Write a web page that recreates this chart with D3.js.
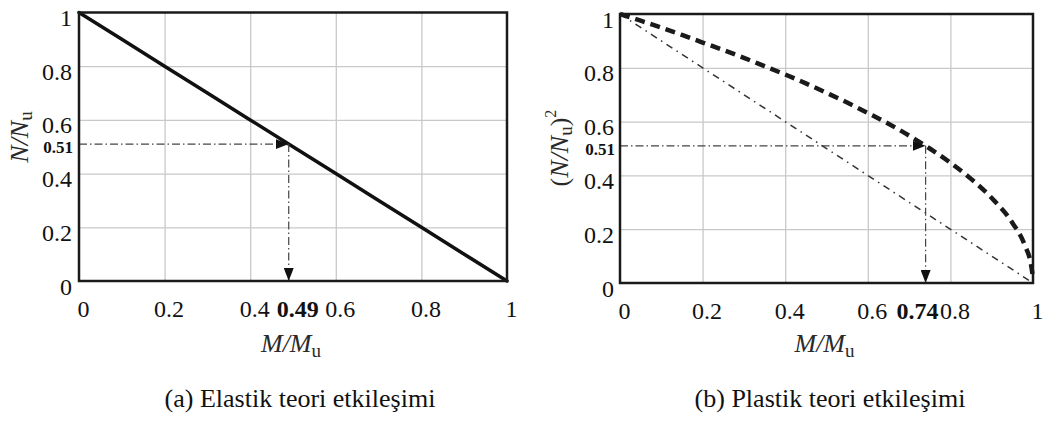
<!DOCTYPE html>
<html><head><meta charset="utf-8">
<script src="https://cdn.jsdelivr.net/npm/d3@7"></script>
<style>
body{margin:0;background:#fff;}
svg{display:block;font-family:"Liberation Serif","Times New Roman",serif;}
</style></head>
<body>
<svg id="c" width="1050" height="421"></svg>
<script>
// ---- data ----
const tickValues = [0, 0.2, 0.4, 0.6, 0.8, 1];
const tickLabels = ["0", "0.2", "0.4", "0.6", "0.8", "1"];
const gridValues = [0.2, 0.4, 0.6, 0.8];

const elasticM = [0, 0.1, 0.2, 0.3, 0.4, 0.5, 0.6, 0.7, 0.8, 0.9, 1];
const elasticN = [1, 0.9, 0.8, 0.7, 0.6, 0.5, 0.4, 0.3, 0.2, 0.1, 0];

const plasticM = [0, 0.05, 0.1, 0.15, 0.2, 0.25, 0.3, 0.35, 0.4, 0.45, 0.5, 0.55, 0.6, 0.65, 0.7, 0.75, 0.8, 0.85, 0.9, 0.95, 0.98, 0.995, 1];
const plasticN = [1, 0.975, 0.949, 0.922, 0.894, 0.866, 0.837, 0.806, 0.775, 0.742, 0.707, 0.671, 0.632, 0.592, 0.548, 0.5, 0.447, 0.387, 0.316, 0.224, 0.141, 0.07, 0.02];

const linearM = [0, 1];
const linearN = [1, 0];

const elasticMark = {m: 0.49, n: 0.51, mLabel: "0.49", nLabel: "0.51"};
const plasticMark = {m: 0.74, n: 0.51, mLabel: "0.74", nLabel: "0.51"};

const titles = ["(a) Elastik teori etkileşimi", "(b) Plastik teori etkileşimi"];

// ---- drawing ----
const svg = d3.select("#c");
const defs = svg.append("defs");
function marker(id, path, w, h, rx, ry) {
  defs.append("marker").attr("id", id).attr("markerUnits", "userSpaceOnUse")
    .attr("viewBox", `0 0 ${w} ${h}`).attr("markerWidth", w).attr("markerHeight", h)
    .attr("refX", rx).attr("refY", ry).attr("orient", "0")
    .append("path").attr("d", path).attr("fill", "#111");
}
marker("arrRight", "M0,0 L13,5 L0,10 Z", 13, 10, 13, 5);
marker("arrDown", "M0,0 L10,0 L5,13 Z", 10, 13, 5, 13);

function panel(opts) {
  const g = svg.append("g");
  const x = d3.scaleLinear().domain([0, 1]).range([opts.x0, opts.x1]);
  const y = d3.scaleLinear().domain([0, 1]).range([opts.yb, opts.yt]);
  const w = opts.x1 - opts.x0, h = opts.yb - opts.yt;

  // grid
  const gx = g.append("g").attr("transform", `translate(0,${opts.yb})`)
    .call(d3.axisBottom(x).tickValues(gridValues).tickSize(-h).tickFormat(""));
  const gy = g.append("g").attr("transform", `translate(${opts.x0},0)`)
    .call(d3.axisLeft(y).tickValues(gridValues).tickSize(-w).tickFormat(""));
  [gx, gy].forEach(a => {
    a.select(".domain").remove();
    a.selectAll("line").attr("stroke", "#c9c9c9").attr("stroke-width", 1.3);
  });

  // tick labels
  const ax = g.append("g").attr("transform", `translate(0,${opts.yb})`)
    .call(d3.axisBottom(x).tickValues(tickValues).tickSize(0).tickFormat((d, i) => tickLabels[i]));
  ax.select(".domain").remove();
  ax.selectAll("text").attr("y", 36).attr("dy", 0).attr("dx", 4)
    .attr("font-size", 24).attr("fill", "#111").attr("font-family", "Liberation Serif");
  const ay = g.append("g").attr("transform", `translate(${opts.x0},0)`)
    .call(d3.axisLeft(y).tickValues(tickValues).tickSize(0).tickFormat((d, i) => tickLabels[i]));
  ay.select(".domain").remove();
  ay.selectAll("text").attr("x", -opts.yLabGap).attr("dy", 13)
    .attr("font-size", 24).attr("fill", "#111").attr("font-family", "Liberation Serif");

  const line = d3.line().x(d => x(d[0])).y(d => y(d[1]));
  opts.draw(g, x, y, line);

  // guide lines
  const mk = opts.mark;
  g.append("line").attr("x1", x(0)).attr("x2", x(mk.m)).attr("y1", y(mk.n)).attr("y2", y(mk.n))
    .attr("stroke", "#444").attr("stroke-width", 1.2).attr("stroke-dasharray", "8,3,1.5,3")
    .attr("marker-end", "url(#arrRight)");
  g.append("line").attr("x1", x(mk.m)).attr("x2", x(mk.m)).attr("y1", y(mk.n)).attr("y2", y(0))
    .attr("stroke", "#444").attr("stroke-width", 1.2).attr("stroke-dasharray", "8,3,1.5,3")
    .attr("marker-end", "url(#arrDown)");

  // border
  g.append("rect").attr("x", opts.x0).attr("y", opts.yt).attr("width", w).attr("height", h)
    .attr("fill", "none").attr("stroke", "#1a1a1a").attr("stroke-width", 2.5);

  // bold labels
  g.append("text").attr("x", x(mk.m) + opts.mLabDx).attr("y", opts.yb + 36)
    .attr("text-anchor", "middle").attr("font-size", 24).attr("font-weight", "bold")
    .attr("fill", "#111").text(mk.mLabel);
  g.append("text").attr("x", opts.x0 - opts.yLabGap + 1).attr("y", y(mk.n) + 9)
    .attr("text-anchor", "end").attr("font-size", 17).attr("font-weight", "bold")
    .attr("fill", "#111").text(mk.nLabel);

  // x title
  const xt = g.append("text").attr("x", (opts.x0 + opts.x1) / 2 - 2).attr("y", 352)
    .attr("text-anchor", "middle").attr("font-size", 26).attr("fill", "#2a2a2a");
  xt.append("tspan").attr("font-style", "italic").text("M/M");
  xt.append("tspan").attr("font-size", 19).attr("dy", 5).text("u");

  // y title
  opts.yTitle(g);

  // caption
  g.append("text").attr("x", opts.capX).attr("y", 407).attr("text-anchor", "middle")
    .attr("font-size", 26).attr("fill", "#111").text(opts.caption);
}

panel({
  x0: 79, x1: 507, yt: 12.5, yb: 281, yLabGap: 7, mLabDx: 9,
  mark: elasticMark, capX: 300, caption: titles[0],
  draw: (g, x, y, line) => {
    g.append("path").datum(elasticM.map((m, i) => [m, elasticN[i]])).attr("d", line)
      .attr("fill", "none").attr("stroke", "#111").attr("stroke-width", 3.5)
      .attr("stroke-linejoin", "round").attr("stroke-linecap", "round");
  },
  yTitle: g => {
    const t = g.append("text").attr("transform", "translate(28,137) rotate(-90)")
      .attr("text-anchor", "middle").attr("font-size", 26).attr("fill", "#2a2a2a");
    t.append("tspan").attr("font-style", "italic").text("N/N");
    t.append("tspan").attr("font-size", 19).attr("dy", 4).text("u");
  }
});

panel({
  x0: 620, x1: 1033, yt: 14, yb: 283, yLabGap: 6, mLabDx: -8,
  mark: plasticMark, capX: 830, caption: titles[1],
  draw: (g, x, y, line) => {
    g.append("path").datum(linearM.map((m, i) => [m, linearN[i]])).attr("d", line)
      .attr("fill", "none").attr("stroke", "#333").attr("stroke-width", 1.5)
      .attr("stroke-dasharray", "7,5,1.5,5");
    g.append("path").datum(plasticM.map((m, i) => [m, plasticN[i]])).attr("d", d3.line().curve(d3.curveMonotoneX).x(d => x(d[0])).y(d => y(d[1])))
      .attr("fill", "none").attr("stroke", "#1a1a1a").attr("stroke-width", 4.5)
      .attr("stroke-dasharray", "10,6");
  },
  yTitle: g => {
    const t = g.append("text").attr("transform", "translate(568,148) rotate(-90)")
      .attr("text-anchor", "middle").attr("font-size", 26).attr("fill", "#2a2a2a");
    t.append("tspan").text("(");
    t.append("tspan").attr("font-style", "italic").text("N/N");
    t.append("tspan").attr("font-size", 19).attr("dy", 4).text("u");
    t.append("tspan").attr("dy", -4).text(")");
    t.append("tspan").attr("font-size", 16).attr("dy", -12).text("2");
  }
});
</script>
</body></html>
